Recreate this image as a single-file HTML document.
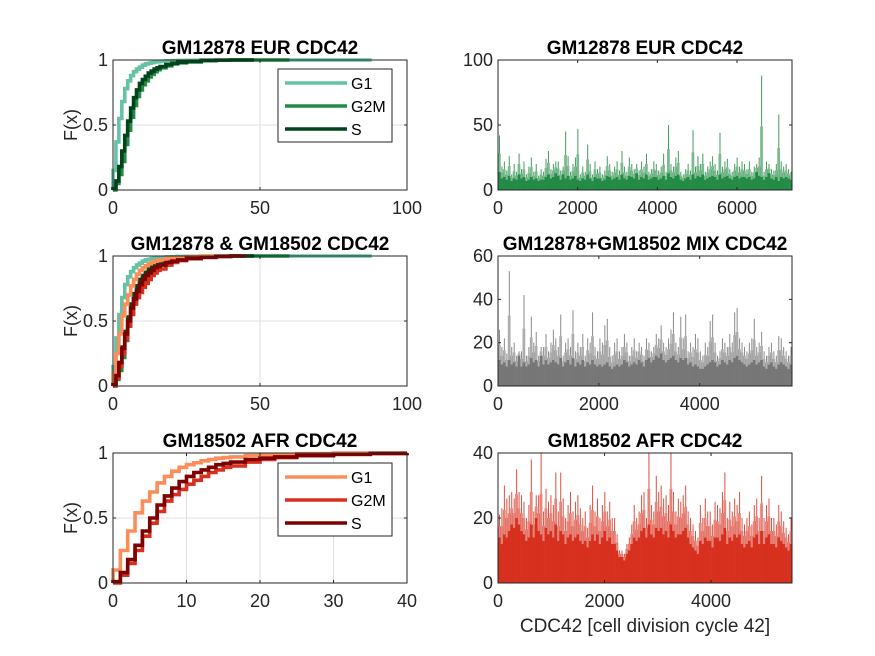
<!DOCTYPE html>
<html><head><meta charset="utf-8"><style>
body{margin:0;background:#fff;}
svg{display:block;font-family:"Liberation Sans",Arial,sans-serif;}
</style></head><body>
<svg id="fig" width="875" height="656" viewBox="0 0 875 656"></svg>
<script>
// ---- CDF data (x = expression level, F = cumulative fraction) ----
const cdfX = [0,1,2,3,4,5,6,7,8,9,10,11,12,13,14,15,16,18,20,22,25,30,35,40];
const eurG1  = [0.15,0.37,0.55,0.68,0.78,0.84,0.88,0.91,0.93,0.945,0.96,0.97,0.975,0.98,0.985,0.987,0.99,0.993,0.995,0.997,0.998,1,1,1];
const eurG2M = [0,0.05,0.12,0.22,0.35,0.46,0.56,0.65,0.72,0.77,0.81,0.84,0.87,0.89,0.91,0.925,0.94,0.955,0.97,0.978,0.985,0.995,0.998,1];
const eurS   = [0.01,0.07,0.18,0.30,0.42,0.53,0.63,0.71,0.77,0.82,0.85,0.875,0.90,0.915,0.93,0.94,0.95,0.965,0.975,0.982,0.99,0.997,0.999,1];
const afrG1  = [0.1,0.25,0.4,0.54,0.63,0.7,0.77,0.82,0.86,0.89,0.91,0.925,0.94,0.95,0.96,0.965,0.97,0.98,0.985,0.99,0.995,1,1,1];
const afrG2M = [0,0.06,0.15,0.25,0.36,0.46,0.55,0.63,0.68,0.72,0.76,0.79,0.82,0.85,0.87,0.89,0.9,0.93,0.95,0.965,0.98,0.99,0.997,1];
const afrS   = [0.01,0.08,0.18,0.29,0.40,0.50,0.60,0.67,0.73,0.78,0.82,0.85,0.87,0.89,0.91,0.92,0.93,0.95,0.96,0.97,0.98,0.99,0.997,1];
const cdfEnds = {eurG1:88, eurG2M:60, eurS:48, afrG1:35, afrG2M:42, afrS:45};

// ---- expression per cell (sampled), peaks and body ----
const eurPeak = [42,18,22,15,26,12,20,14,28,16,22,12,18,25,14,20,11,16,14,24,30,16,20,22,22,15,18,45,26,14,20,25,47,12,18,14,35,20,12,22,16,18,12,15,26,20,14,18,22,15,30,18,14,25,20,16,20,15,22,18,28,14,16,22,20,15,18,28,14,50,20,18,25,30,14,12,16,20,15,46,18,26,20,28,14,18,22,26,20,15,44,18,22,24,16,14,20,25,18,22,20,16,22,14,18,20,25,88,14,22,20,16,15,20,58,22,18,20,16,14];
const eurBody = [14,9,10,8,11,7,9,8,12,9,10,7,8,10,8,9,7,8,8,10,12,9,10,13,11,8,12,9,11,8,9,11,8,7,9,8,12,9,7,10,9,9,7,8,11,10,8,9,10,8,12,9,8,11,10,9,13,8,10,9,12,8,9,10,10,8,9,11,8,13,10,9,11,12,8,7,9,10,8,12,9,11,10,12,8,9,10,11,10,8,12,9,10,11,9,8,10,11,9,10,10,9,10,8,9,14,11,10,8,10,13,9,8,10,7,10,9,10,9,8];
const mixPeak = [26,18,22,15,53,18,20,14,16,16,42,14,18,32,20,25,14,18,18,24,16,20,26,22,18,33,14,20,22,18,35,16,20,18,24,14,22,20,34,18,16,22,20,28,31,18,14,20,22,16,18,24,20,14,18,22,16,20,18,14,22,20,16,18,24,22,28,20,18,22,26,34,20,18,32,22,33,16,20,18,24,22,16,14,20,18,30,33,20,14,16,22,20,18,24,20,34,36,22,20,18,16,20,22,31,18,20,25,16,14,18,20,16,14,23,22,18,16,14,18];
const mixBody = [12,10,11,9,12,10,11,9,14,9,11,9,10,13,11,12,9,14,10,12,10,11,12,11,10,13,9,11,12,10,13,9,11,10,12,9,11,10,12,10,9,10,9,10,11,9,8,9,10,9,10,12,11,9,10,11,10,12,11,9,12,13,11,12,14,13,15,12,11,12,13,14,12,11,13,12,13,10,11,9,10,9,8,8,9,10,11,12,11,9,10,12,11,10,12,11,13,14,12,11,10,9,10,11,12,10,11,12,9,8,10,11,9,8,10,11,10,9,8,10];
const afrPeak = [21,23,30,26,27,28,26,35,28,27,25,20,24,38,22,27,27,40,22,29,25,27,24,34,22,34,26,20,24,28,22,25,27,23,20,22,17,24,30,22,26,20,24,28,22,25,20,20,15,10,10,9,12,14,18,24,20,22,27,28,20,40,24,22,33,28,30,26,27,24,40,28,22,26,25,27,30,22,20,18,16,14,24,20,26,22,22,18,25,24,23,28,34,20,25,22,26,24,28,20,18,20,22,18,24,26,20,33,20,24,26,20,20,18,24,22,19,17,15,20];
const afrBody = [14,12,15,14,16,18,17,20,18,16,15,13,14,18,14,20,16,15,13,17,15,16,14,18,13,16,15,12,14,15,13,14,15,13,12,13,11,13,15,13,15,12,14,16,13,14,12,12,10,8,8,7,9,10,12,14,13,14,16,17,14,18,15,14,17,16,17,15,16,14,18,16,14,15,15,16,17,14,12,11,10,9,13,12,14,13,13,11,14,14,13,15,17,12,14,13,15,14,15,12,11,12,13,11,14,15,12,16,12,14,15,12,12,11,14,13,12,11,10,12];
const eurMax = 7380, mixMax = 5830, afrMax = 5520;

const NS = "http://www.w3.org/2000/svg";
const svg = document.getElementById('fig');
function el(tag, attrs, parent){const e=document.createElementNS(NS,tag);for(const k in attrs)e.setAttribute(k,attrs[k]);(parent||svg).appendChild(e);return e;}
function txt(s, attrs, parent){const e=el('text',attrs,parent);e.textContent=s;return e;}

const LX0=113, LX1=407, RX0=498, RX1=792;
const rows=[[60,190],[256,386],[453,583]];
const TC='#262626';
const TICK=18;

function axesFrame(x0,x1,y0,y1,xt,xl,yt,yl,xmax,ymax,grid,g){
  const sx=v=>x0+(v/xmax)*(x1-x0), sy=v=>y1-(v/ymax)*(y1-y0);
  if(grid){
    xt.forEach(v=>{const l=el('line',{x1:sx(v),x2:sx(v),y1:y0,y2:y1,stroke:'#dfdfdf','stroke-width':1},g);});
    yt.forEach(v=>{const l=el('line',{x1:x0,x2:x1,y1:sy(v),y2:sy(v),stroke:'#dfdfdf','stroke-width':1},g);});
  }
  xt.forEach((v,i)=>{const t=txt(xl[i],{x:sx(v),y:y1+24,'text-anchor':'middle','font-size':TICK,fill:TC},g);});
  yt.forEach((v,i)=>{const t=txt(yl[i],{x:x0-5,y:sy(v)+6,'text-anchor':'end','font-size':TICK,fill:TC},g);});
  return {sx,sy};
}
function box(x0,x1,y0,y1,xt,yt,sx,sy,g){
  const r=el('rect',{x:x0,y:y0,width:x1-x0,height:y1-y0,fill:'none',stroke:TC,'stroke-width':1},g);
  
  xt.forEach(v=>{el('line',{x1:sx(v),x2:sx(v),y1:y1,y2:y1-3,stroke:TC},g);el('line',{x1:sx(v),x2:sx(v),y1:y0,y2:y0+3,stroke:TC},g);});
  yt.forEach(v=>{el('line',{x1:x0,x2:x0+3,y1:sy(v),y2:sy(v),stroke:TC},g);el('line',{x1:x1,x2:x1-3,y1:sy(v),y2:sy(v),stroke:TC},g);});
}
function title(s,cx,y){const t=txt(s,{x:cx,y:y,'text-anchor':'middle','font-size':19,'font-weight':'bold',fill:'#000'});}

function cdfPath(F,end,sx,sy,xmax,color,g,name){
  let d='M'+sx(0)+','+sy(0);
  for(let i=0;i<cdfX.length;i++){
    const x=Math.min(cdfX[i],xmax);
    d+=' L'+sx(x)+','+sy(F[i]);
    const nx=i<cdfX.length-1?cdfX[i+1]:end;
    d+=' L'+sx(Math.min(nx,xmax))+','+sy(F[i]);
  }
  const p=el('path',{d:d,fill:'none',stroke:color,'stroke-width':3.6,'stroke-linejoin':'miter'},g);
  
  
}
function legend(x,y,items){
  const g=el('g',{});
  
  
  el('rect',{x:x,y:y,width:114,height:73,fill:'#fff',stroke:TC,'stroke-width':1},g);
  items.forEach((it,i)=>{
    const yy=y+14+i*23;
    const ln=el('line',{x1:x+7,x2:x+69,y1:yy,y2:yy,stroke:it[1],'stroke-width':3.6},g);
    
    const t=txt(it[0],{x:x+73,y:yy+6,'font-size':16,fill:'#000'},g);
    
  });
}
const GREEN=['#66c2a4','#238b45','#00441b'], RED=['#fc8d59','#d7301f','#7f0000'];

// Left panels
[[0,'GM12878 EUR CDC42',100,[0,50,100]],[1,'GM12878 & GM18502 CDC42',100,[0,50,100]],[2,'GM18502 AFR CDC42',40,[0,10,20,30,40]]].forEach(([r,ttl,xmax,xt])=>{
  const [y0,y1]=rows[r];
  const g=el('g',{});
  const {sx,sy}=axesFrame(LX0,LX1,y0,y1,xt,xt.map(String),[0,0.5,1],['0','0.5','1'],xmax,1,true,g);
  const cg=el('g',{},g);
  if(r!==2){
    cdfPath(eurG1,cdfEnds.eurG1,sx,sy,xmax,GREEN[0],cg,'cdf-eur-g1');
    cdfPath(eurG2M,cdfEnds.eurG2M,sx,sy,xmax,GREEN[1],cg,'cdf-eur-g2m');
    cdfPath(eurS,cdfEnds.eurS,sx,sy,xmax,GREEN[2],cg,'cdf-eur-s');
  }
  if(r!==0){
    cdfPath(afrG1,cdfEnds.afrG1,sx,sy,xmax,RED[0],cg,'cdf-afr-g1');
    cdfPath(afrG2M,cdfEnds.afrG2M,sx,sy,xmax,RED[1],cg,'cdf-afr-g2m');
    cdfPath(afrS,cdfEnds.afrS,sx,sy,xmax,RED[2],cg,'cdf-afr-s');
  }
  box(LX0,LX1,y0,y1,xt,[0,0.5,1],sx,sy,g);
  title(ttl,(LX0+LX1)/2,y0-6);
  const yl=txt('F(x)',{x:0,y:0,'font-size':18,fill:TC,'text-anchor':'middle',transform:`translate(77,${(y0+y1)/2}) rotate(-90)`},g);
  
});
legend(278,69,[['G1',GREEN[0]],['G2M',GREEN[1]],['S',GREEN[2]]]);
legend(278,463,[['G1',RED[0]],['G2M',RED[1]],['S',RED[2]]]);

// Right panels
function barPanel(r,ttl,peak,body,xmax,ymax,xt,yt,color,name){
  const [y0,y1]=rows[r];
  const g=el('g',{});
  const {sx,sy}=axesFrame(RX0,RX1,y0,y1,xt,xt.map(String),yt,yt.map(String),xmax,ymax,false,g);
  const n=Math.min(peak.length,body.length), step=xmax/n;
  for(let i=0;i<n;i++){
    const v=peak[i], bv=Math.min(body[i],v);
    const x=sx(i*step), w=sx((i+1)*step)-x;
    const b=el('rect',{x:x,y:sy(bv),width:w+0.3,height:sy(0)-sy(bv),fill:color},g);
    
    const mid=(v+bv)/2;
    const h=el('rect',{x:x,y:sy(mid),width:w+0.3,height:sy(bv)-sy(mid),fill:color,opacity:0.6},g);
    
    const s=el('rect',{x:x+w*0.4,y:sy(v),width:1,height:sy(mid)-sy(v),fill:color,opacity:0.85},g);
    
  }
  box(RX0,RX1,y0,y1,xt,yt,sx,sy,g);
  title(ttl,(RX0+RX1)/2,y0-6);
}
barPanel(0,'GM12878 EUR CDC42',eurPeak,eurBody,eurMax,100,[0,2000,4000,6000],[0,50,100],'#238b45','expression-bars-eur');
barPanel(1,'GM12878+GM18502 MIX CDC42',mixPeak,mixBody,mixMax,60,[0,2000,4000],[0,20,40,60],'#777777','expression-bars-mix');
barPanel(2,'GM18502 AFR CDC42',afrPeak,afrBody,afrMax,40,[0,2000,4000],[0,20,40],'#d7301f','expression-bars-afr');
const xl=txt('CDC42 [cell division cycle 42]',{x:(RX0+RX1)/2,y:632,'text-anchor':'middle','font-size':19,fill:TC});

</script>
</body></html>
